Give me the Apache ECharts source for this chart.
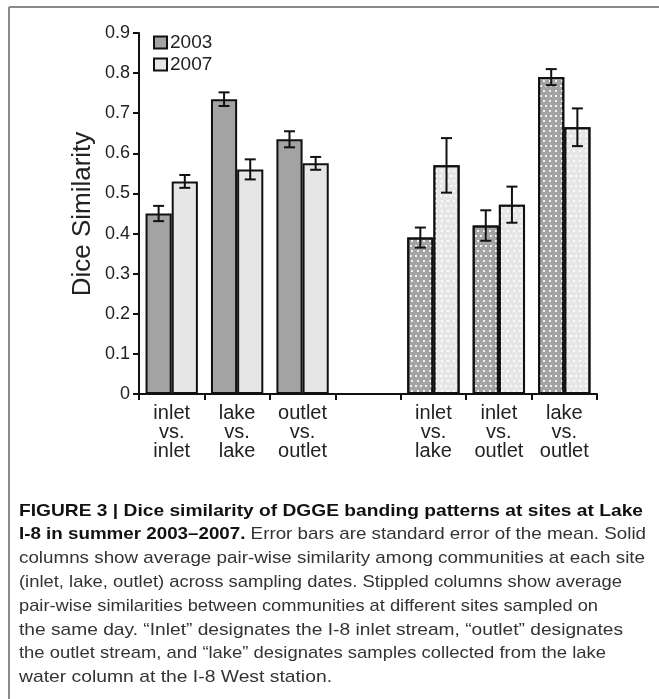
<!DOCTYPE html>
<html>
<head>
<meta charset="utf-8">
<script src="https://cdn.jsdelivr.net/npm/echarts@6/dist/echarts.min.js"></script>
<style>
html,body{margin:0;padding:0;background:#fff;}
#chart{width:659px;height:699px;}
</style>
</head>
<body>
<div id="chart"></div>
<script>
var categories = ['inlet\nvs.\ninlet', 'lake\nvs.\nlake', 'outlet\nvs.\noutlet', '', 'inlet\nvs.\nlake', 'inlet\nvs.\noutlet', 'lake\nvs.\noutlet'];
var v2003 = [0.45, 0.735, 0.635, null, 0.39, 0.42, 0.79];
var v2007 = [0.53, 0.56, 0.575, null, 0.57, 0.472, 0.665];
var se2003 = [0.019, 0.017, 0.02, null, 0.025, 0.038, 0.02];
var se2007 = [0.016, 0.025, 0.016, null, 0.068, 0.045, 0.047];
var stippled = [false, false, false, false, true, true, true];
var yTicks = ['0', '0.1', '0.2', '0.3', '0.4', '0.5', '0.6', '0.7', '0.8', '0.9'];
var captionLines = [
  [['b', 'FIGURE 3 | Dice similarity of DGGE banding patterns at sites at Lake']],
  [['b', 'I-8 in summer 2003\u20132007.'], ['n', ' Error bars are standard error of the mean. Solid']],
  [['n', 'columns show average pair-wise similarity among communities at each site']],
  [['n', '(inlet, lake, outlet) across sampling dates. Stippled columns show average']],
  [['n', 'pair-wise similarities between communities at different sites sampled on']],
  [['n', 'the same day. \u201cInlet\u201d designates the I-8 inlet stream, \u201coutlet\u201d designates']],
  [['n', 'the outlet stream, and \u201clake\u201d designates samples collected from the lake']],
  [['n', 'water column at the I-8 West station.']]
];
var captionWidths = [624, 627, 626, 603, 579, 604, 587, 313];

var DARK = '#a3a3a3', LIGHT = '#e6e6e6';
var capFont = '"Liberation Sans", Arial, sans-serif';
var mainFont = '"Liberation Sans", Arial, sans-serif';

function decal() {
  return {
    symbol: 'rect',
    symbolSize: 1,
    color: 'rgba(255,255,255,0.85)',
    dashArrayX: [[2, 3], [0, 2.5, 2, 0.5]],
    dashArrayY: [2, 2.7],
    rotation: 0
  };
}
function barData(vals, color) {
  return vals.map(function (v, i) {
    if (v == null) return null;
    var it = { value: v, itemStyle: { color: color } };
    if (stippled[i]) it.itemStyle.decal = decal();
    return it;
  });
}
function errData(vals, se) {
  var out = [];
  vals.forEach(function (v, i) { if (v != null) out.push([i, v, se[i]]); });
  return out;
}
function errRender(side) {
  return function (params, api) {
    var i = api.value(0), m = api.value(1), e = api.value(2);
    var band = api.size([1, 0])[0];
    var cx = api.coord([i, m])[0] + side * band * 0.2;
    var yt = api.coord([i, m + e])[1];
    var yb = api.coord([i, m - e])[1];
    var hw = 5.5;
    var st = { stroke: '#111', lineWidth: 2 };
    return {
      type: 'group',
      children: [
        { type: 'line', shape: { x1: cx, y1: yt, x2: cx, y2: yb }, style: st },
        { type: 'line', shape: { x1: cx - hw, y1: yt, x2: cx + hw, y2: yt }, style: st },
        { type: 'line', shape: { x1: cx - hw, y1: yb, x2: cx + hw, y2: yb }, style: st }
      ]
    };
  };
}

var chart = echarts.init(document.getElementById('chart'), null, { renderer: 'canvas' });

var cv = document.createElement('canvas').getContext('2d');
var capSize = 17;
function fontOf(p) { return (p[0] === 'b' ? 'bold ' : '') + capSize + 'px ' + capFont; }
function widthOf(p) { cv.font = fontOf(p); return cv.measureText(p[1]).width; }

var graphics = [
  { type: 'line', shape: { x1: 9, y1: 7, x2: 659, y2: 7 }, style: { stroke: '#8a8a8a', lineWidth: 2 } },
  { type: 'line', shape: { x1: 9, y1: 7, x2: 9, y2: 699 }, style: { stroke: '#8a8a8a', lineWidth: 2 } },
  { type: 'text', x: 83, y: 214, rotation: Math.PI / 2,
    style: { text: 'Dice Similarity', font: '26px ' + mainFont, fill: '#222', textAlign: 'center', textVerticalAlign: 'middle' } }
];
captionLines.forEach(function (line, k) {
  var total = 0;
  line.forEach(function (p) { total += widthOf(p); });
  var sc = captionWidths[k] / total;
  var x = 19;
  line.forEach(function (p) {
    var bold = p[0] === 'b';
    graphics.push({
      type: 'text', x: x, y: 511 + k * 23.8, scaleX: sc, scaleY: 1,
      style: { text: p[1], font: fontOf(p), fill: bold ? '#111' : '#333', textVerticalAlign: 'middle' }
    });
    x += widthOf(p) * sc;
  });
});

chart.setOption({
  backgroundColor: '#fff',
  animation: false,
  grid: { left: 139, right: 62, top: 33, bottom: 305, containLabel: false },
  legend: {
    left: 153, top: 33, orient: 'vertical', itemWidth: 13, itemHeight: 12, itemGap: 3, padding: 0,
    icon: 'rect',
    textStyle: { fontFamily: mainFont, fontSize: 19, lineHeight: 19, color: '#222', padding: [0, 0, 0, -2] },
    data: ['2003', '2007']
  },
  xAxis: {
    type: 'category', data: categories,
    axisLine: { lineStyle: { color: '#111', width: 2 } },
    axisTick: { show: true, length: 6, lineStyle: { color: '#111', width: 2 } },
    axisLabel: { fontFamily: mainFont, fontSize: 20, lineHeight: 19, color: '#222', margin: 10, interval: 0 }
  },
  yAxis: {
    type: 'value', min: 0, max: 0.9, interval: 0.1,
    splitLine: { show: false },
    axisLine: { show: true, lineStyle: { color: '#111', width: 2 } },
    axisTick: { show: true, length: 6, lineStyle: { color: '#111', width: 2 } },
    axisLabel: {
      fontFamily: mainFont, fontSize: 18, color: '#222', margin: 9,
      formatter: function (v) { return yTicks[Math.round(v * 10)]; }
    }
  },
  series: [
    { name: '2003', type: 'bar', data: barData(v2003, DARK), barWidth: '40%', barGap: '0%',
      itemStyle: { color: DARK, borderColor: '#111', borderWidth: 2 } },
    { name: '2007', type: 'bar', data: barData(v2007, LIGHT), barWidth: '40%', barGap: '0%',
      itemStyle: { color: LIGHT, borderColor: '#111', borderWidth: 2 } },
    { type: 'custom', data: errData(v2003, se2003), renderItem: errRender(-1), z: 10, silent: true },
    { type: 'custom', data: errData(v2007, se2007), renderItem: errRender(1), z: 10, silent: true }
  ],
  graphic: graphics
});
</script>
</body>
</html>
